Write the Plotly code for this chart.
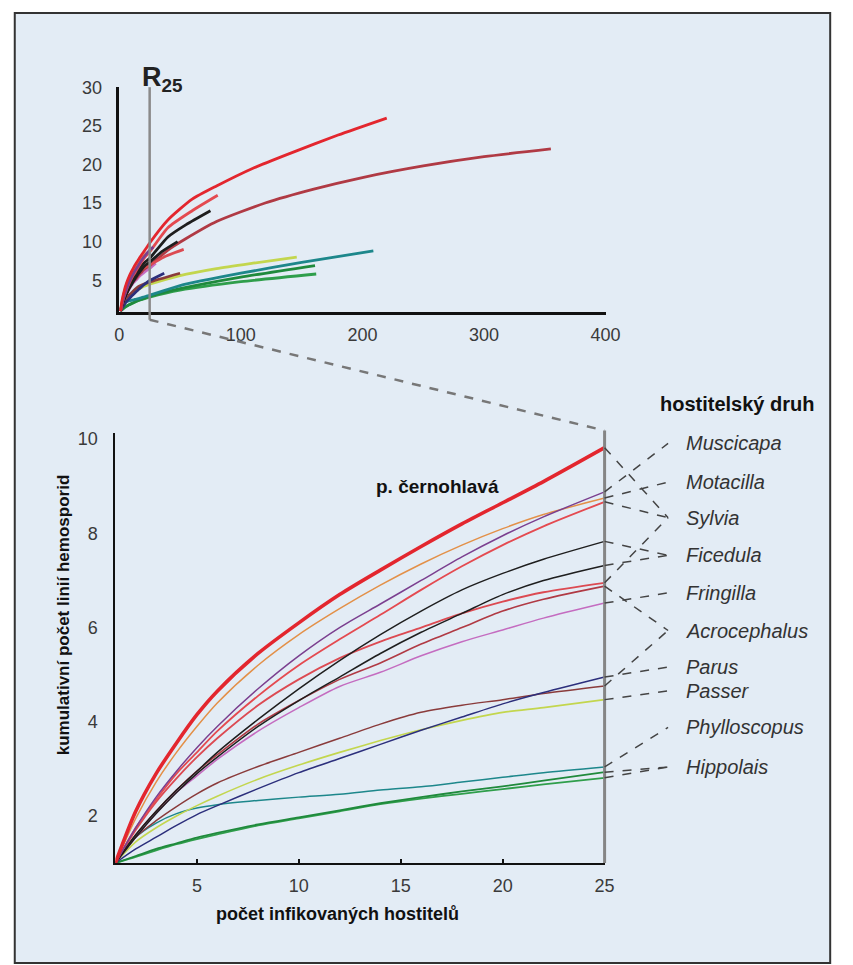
import plotly.graph_objects as go

W, H = 853, 965

# ---------------- data ----------------
X_MAIN = [1, 2, 3, 4, 5, 6, 8, 10, 12, 14, 16, 18, 20, 22, 25]

Y_SYLVIA_ATRI = [1, 2.1, 2.9, 3.55, 4.15, 4.65, 5.45, 6.1, 6.7, 7.22, 7.72, 8.2, 8.65, 9.1, 9.82]
Y_MUSCICAPA   = [1, 1.75, 2.4, 2.95, 3.45, 3.9, 4.7, 5.4, 6.0, 6.5, 7.0, 7.5, 7.95, 8.35, 8.88]
Y_MOTACILLA   = [1, 1.95, 2.72, 3.35, 3.9, 4.4, 5.2, 5.85, 6.4, 6.9, 7.35, 7.75, 8.1, 8.4, 8.75]
Y_SYLVIA_2    = [1, 1.75, 2.35, 2.9, 3.35, 3.8, 4.55, 5.2, 5.75, 6.27, 6.8, 7.3, 7.75, 8.15, 8.67]
Y_FICEDULA_1  = [1, 1.6, 2.1, 2.55, 2.95, 3.35, 4.05, 4.7, 5.3, 5.85, 6.35, 6.8, 7.15, 7.45, 7.83]
Y_FICEDULA_2  = [1, 1.55, 2.05, 2.5, 2.9, 3.25, 3.9, 4.45, 4.95, 5.45, 5.9, 6.3, 6.7, 7.0, 7.32]
Y_SYLVIA_3    = [1, 1.7, 2.3, 2.8, 3.25, 3.65, 4.35, 4.9, 5.35, 5.7, 6.0, 6.3, 6.55, 6.75, 6.95]
Y_ACRO_1      = [1, 1.6, 2.1, 2.55, 2.95, 3.3, 3.95, 4.45, 4.9, 5.25, 5.65, 6.0, 6.35, 6.6, 6.88]
Y_FRINGILLA   = [1, 1.55, 2.05, 2.5, 2.85, 3.2, 3.8, 4.3, 4.75, 5.05, 5.4, 5.7, 5.95, 6.2, 6.52]
Y_PARUS       = [1, 1.3, 1.55, 1.8, 2.03, 2.22, 2.58, 2.92, 3.22, 3.52, 3.82, 4.1, 4.38, 4.62, 4.95]
Y_ACRO_2      = [1, 1.55, 1.9, 2.2, 2.47, 2.7, 3.05, 3.35, 3.65, 3.95, 4.2, 4.35, 4.47, 4.6, 4.76]
Y_PASSER      = [1, 1.45, 1.75, 2.0, 2.22, 2.42, 2.78, 3.08, 3.35, 3.6, 3.83, 4.03, 4.2, 4.3, 4.47]
Y_PHYLLOSC    = [1, 1.55, 1.85, 2.05, 2.17, 2.24, 2.33, 2.4, 2.46, 2.55, 2.62, 2.72, 2.82, 2.92, 3.04]
Y_HIPPOLAIS_1 = [1, 1.15, 1.3, 1.42, 1.54, 1.64, 1.82, 1.97, 2.12, 2.27, 2.4, 2.52, 2.63, 2.75, 2.93]
Y_HIPPOLAIS_2 = [1, 1.13, 1.27, 1.4, 1.51, 1.61, 1.8, 1.95, 2.1, 2.25, 2.37, 2.47, 2.57, 2.67, 2.81]

# inset (full sample) continuations beyond 25 hosts
XE_SYLVIA_ATRI = [40, 60, 80, 110, 140, 180, 220]
YE_SYLVIA_ATRI = [12.8, 15.5, 17.2, 19.5, 21.4, 23.8, 26.0]
XE_MUSCICAPA = [28]
YE_MUSCICAPA = [9.3]
XE_MOTACILLA = [26]
YE_MOTACILLA = [8.9]
XE_SYLVIA_2 = [40, 60, 81]
YE_SYLVIA_2 = [11.8, 14.0, 16.0]
XE_FICEDULA_1 = [40, 55, 75]
YE_FICEDULA_1 = [10.6, 12.2, 14.0]
XE_FICEDULA_2 = [35, 48]
YE_FICEDULA_2 = [8.7, 10.0]
XE_SYLVIA_3 = [38, 53]
YE_SYLVIA_3 = [8.1, 9.0]
XE_ACRO_1 = [40, 55, 80, 120, 160, 200, 250, 300, 355]
YE_ACRO_1 = [8.9, 10.4, 12.6, 15.0, 16.8, 18.3, 19.8, 21.0, 22.0]
XE_FRINGILLA = [30]
YE_FRINGILLA = [7.2]
XE_PARUS = [37]
YE_PARUS = [5.9]
XE_ACRO_2 = [50]
YE_ACRO_2 = [5.9]
XE_PASSER = [50, 80, 110, 146]
YE_PASSER = [5.6, 6.5, 7.2, 8.0]
XE_PHYLLOSC = [50, 100, 150, 209]
YE_PHYLLOSC = [4.3, 5.9, 7.3, 8.8]
XE_HIPPOLAIS_1 = [50, 100, 161]
YE_HIPPOLAIS_1 = [3.9, 5.4, 6.9]
XE_HIPPOLAIS_2 = [50, 100, 162]
YE_HIPPOLAIS_2 = [3.7, 4.8, 5.8]

GENERA = ["Muscicapa", "Motacilla", "Sylvia", "Ficedula", "Fringilla",
          "Acrocephalus", "Parus", "Passer", "Phylloscopus", "Hippolais"]
R25 = 25

MAIN_XTICKS = [5, 10, 15, 20, 25]
MAIN_YTICKS = [2, 4, 6, 8, 10]
INS_XTICKS = [0, 100, 200, 300, 400]
INS_YTICKS = [5, 10, 15, 20, 25, 30]

# series: (main y, ext x, ext y, genus, colour, main width)
SERIES = [
    (Y_HIPPOLAIS_2, XE_HIPPOLAIS_2, YE_HIPPOLAIS_2, "Hippolais", "#2f9e4b", 1.8),
    (Y_HIPPOLAIS_1, XE_HIPPOLAIS_1, YE_HIPPOLAIS_1, "Hippolais", "#1f8a3c", 1.8),
    (Y_PHYLLOSC, XE_PHYLLOSC, YE_PHYLLOSC, "Phylloscopus", "#1d878b", 1.5),
    (Y_PASSER, XE_PASSER, YE_PASSER, "Passer", "#c3d64e", 1.6),
    (Y_ACRO_2, XE_ACRO_2, YE_ACRO_2, "Acrocephalus", "#8a3b3b", 1.5),
    (Y_PARUS, XE_PARUS, YE_PARUS, "Parus", "#2c2f7c", 1.5),
    (Y_FRINGILLA, XE_FRINGILLA, YE_FRINGILLA, "Fringilla", "#c46cc0", 1.5),
    (Y_ACRO_1, XE_ACRO_1, YE_ACRO_1, "Acrocephalus", "#b03a44", 1.6),
    (Y_SYLVIA_3, XE_SYLVIA_3, YE_SYLVIA_3, "Sylvia", "#dc4a52", 1.8),
    (Y_FICEDULA_2, XE_FICEDULA_2, YE_FICEDULA_2, "Ficedula", "#1e1e1e", 1.5),
    (Y_FICEDULA_1, XE_FICEDULA_1, YE_FICEDULA_1, "Ficedula", "#1e1e1e", 1.5),
    (Y_SYLVIA_2, XE_SYLVIA_2, YE_SYLVIA_2, "Sylvia", "#e44a50", 1.8),
    (Y_MOTACILLA, XE_MOTACILLA, YE_MOTACILLA, "Motacilla", "#e39048", 1.5),
    (Y_MUSCICAPA, XE_MUSCICAPA, YE_MUSCICAPA, "Muscicapa", "#7b3f8f", 1.5),
    (Y_SYLVIA_ATRI, XE_SYLVIA_ATRI, YE_SYLVIA_ATRI, "Sylvia", "#e3262e", 3.6),
]

# ---------------- layout geometry (pixels) ----------------
MAIN_PX = dict(x0=113, x1=614, ybot=862, ytop=427)
INS_PX = dict(x0=117, x1=615, ybot=305, ytop=78)
MAIN_XR = [1, 25]
MAIN_YR = [1, 10.14]
INS_XR = [0, 400]
INS_YR = [0.9, 30]
LABEL_X_PX = 695
LABEL_Y_PX = [438, 477, 513, 551, 589, 627, 664, 688, 725, 765]
FONT = "Arial, Liberation Sans, sans-serif"


def px(p):
    return p / W


def py(p):
    return 1 - p / H


def lin(v, rng, p0, p1):
    return p0 + (v - rng[0]) / (rng[1] - rng[0]) * (p1 - p0)


fig = go.Figure()

# main chart traces
for ys, xe, ye, genus, col, wd in SERIES:
    fig.add_trace(go.Scatter(x=X_MAIN, y=ys, mode="lines",
                             line=dict(color=col, width=wd, shape="spline", smoothing=0.8),
                             xaxis="x", yaxis="y", showlegend=False, hoverinfo="skip"))
# inset traces
for ys, xe, ye, genus, col, wd in SERIES:
    fig.add_trace(go.Scatter(x=X_MAIN + xe, y=ys + ye, mode="lines",
                             line=dict(color=col, width=2.8, shape="spline", smoothing=0.6),
                             xaxis="x2", yaxis="y2", showlegend=False, hoverinfo="skip"))

shapes = []
# background frame
shapes.append(dict(type="rect", xref="paper", yref="paper", x0=px(10), x1=px(845),
                   y0=py(963), y1=py(3), fillcolor="#e3ecf5",
                   line=dict(color="#333333", width=2), layer="below"))

# R25 marker in inset
r25_px = lin(R25, INS_XR, INS_PX["x0"], INS_PX["x1"])
shapes.append(dict(type="line", xref="paper", yref="paper", x0=px(r25_px), x1=px(r25_px),
                   y0=py(INS_PX["ytop"]), y1=py(313), line=dict(color="#8a8a8a", width=2.5)))
shapes.append(dict(type="line", xref="paper", yref="paper", x0=px(r25_px), x1=px(MAIN_PX["x1"]),
                   y0=py(313), y1=py(425), line=dict(color="#777777", width=2.5, dash="dash")))
# right grey line of main chart
shapes.append(dict(type="line", xref="paper", yref="paper", x0=px(MAIN_PX["x1"]), x1=px(MAIN_PX["x1"]),
                   y0=py(425), y1=py(MAIN_PX["ybot"]), line=dict(color="#858585", width=3)))

# connectors from line ends to genus labels
for ys, xe, ye, genus, col, wd in SERIES:
    ey = lin(ys[-1], MAIN_YR, MAIN_PX["ybot"], MAIN_PX["ytop"])
    ly = LABEL_Y_PX[GENERA.index(genus)]
    shapes.append(dict(type="line", xref="paper", yref="paper",
                       x0=px(MAIN_PX["x1"]), y0=py(ey), x1=px(LABEL_X_PX - 16), y1=py(ly),
                       line=dict(color="#444444", width=1.5, dash="dash")))

annotations = []
for g, ly in zip(GENERA, LABEL_Y_PX):
    annotations.append(dict(text="<i>%s</i>" % g, xref="paper", yref="paper",
                            x=px(LABEL_X_PX), y=py(ly), xanchor="left", yanchor="middle",
                            showarrow=False, font=dict(family=FONT, size=20, color="#333333")))
annotations += [
    dict(text="<b>hostitelský druh</b>", xref="paper", yref="paper", x=px(750), y=py(398),
         xanchor="center", yanchor="middle", showarrow=False,
         font=dict(family=FONT, size=20, color="#111111")),
    dict(text="<b>p. černohlavá</b>", xref="paper", yref="paper", x=px(443), y=py(481),
         xanchor="center", yanchor="middle", showarrow=False,
         font=dict(family=FONT, size=19, color="#111111")),
    dict(text="<b>kumulativní počet linií hemosporid</b>", xref="paper", yref="paper",
         x=px(60), y=py(611), xanchor="center", yanchor="middle", textangle=-90,
         showarrow=False, font=dict(family=FONT, size=17, color="#111111")),
    dict(text="<b>počet infikovaných hostitelů</b>", xref="paper", yref="paper",
         x=px(340), y=py(913), xanchor="center", yanchor="middle",
         showarrow=False, font=dict(family=FONT, size=18, color="#111111")),
    dict(text="<b>R</b><sub><b>25</b></sub>", xref="paper", yref="paper",
         x=px(138), y=py(70), xanchor="left", yanchor="middle",
         showarrow=False, font=dict(family=FONT, size=27, color="#222222")),
]

tickfont = dict(family=FONT, size=18, color="#3a3a3a")
fig.update_layout(
    width=W, height=H, autosize=False,
    margin=dict(l=0, r=0, t=0, b=0),
    paper_bgcolor="white", plot_bgcolor="rgba(0,0,0,0)",
    xaxis=dict(domain=[px(MAIN_PX["x0"]), px(MAIN_PX["x1"])], range=MAIN_XR,
               tickvals=MAIN_XTICKS, showgrid=False, zeroline=False,
               showline=True, linecolor="#111111", linewidth=2,
               ticks="inside", ticklen=4, tickcolor="#111111", tickwidth=1.5,
               tickfont=tickfont, ticklabelstandoff=5, anchor="y"),
    yaxis=dict(domain=[py(MAIN_PX["ybot"]), py(MAIN_PX["ytop"])], range=MAIN_YR,
               tickvals=MAIN_YTICKS, showgrid=False, zeroline=False,
               showline=True, linecolor="#111111", linewidth=2,
               ticks="", tickfont=tickfont, ticklabelstandoff=12, anchor="x"),
    xaxis2=dict(domain=[px(INS_PX["x0"]), px(INS_PX["x1"])], range=INS_XR,
                tickvals=INS_XTICKS, showgrid=False, zeroline=False,
                showline=True, linecolor="#111111", linewidth=2.5,
                ticks="", tickfont=tickfont, ticklabelstandoff=5, anchor="y2"),
    yaxis2=dict(domain=[py(INS_PX["ybot"]), py(INS_PX["ytop"])], range=INS_YR,
                tickvals=INS_YTICKS, showgrid=False, zeroline=False,
                showline=True, linecolor="#111111", linewidth=2.5,
                ticks="", tickfont=tickfont, ticklabelstandoff=11, anchor="x2"),
    shapes=shapes, annotations=annotations,
)

fig.write_html("out.html", config={"displayModeBar": False},
               post_script="document.body.style.margin='0px';document.body.style.overflow='hidden';")
